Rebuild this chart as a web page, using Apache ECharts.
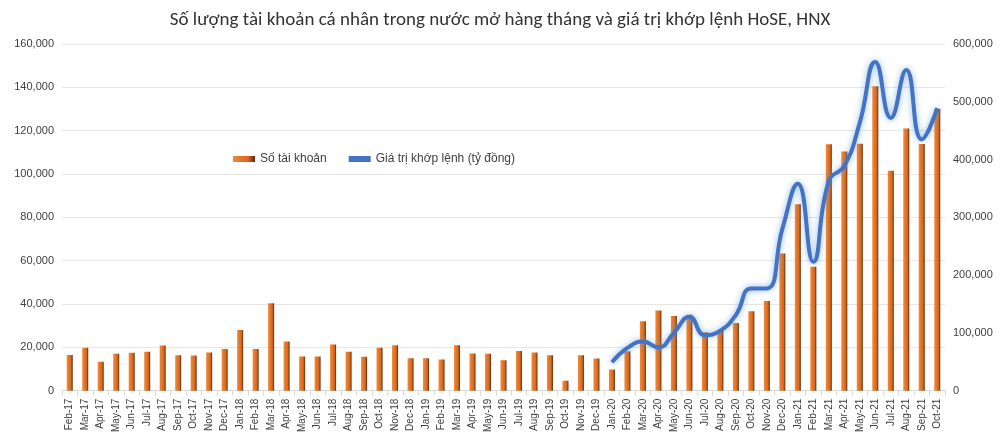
<!DOCTYPE html><html><head><meta charset="utf-8"><script src="https://cdn.jsdelivr.net/npm/echarts@6/dist/echarts.min.js"></script></head><body style="margin:0"><div id="c" style="width:1000px;height:435px"></div><script>
const categories=["Feb-17","Mar-17","Apr-17","May-17","Jun-17","Jul-17","Aug-17","Sep-17","Oct-17","Nov-17","Dec-17","Jan-18","Feb-18","Mar-18","Apr-18","May-18","Jun-18","Jul-18","Aug-18","Sep-18","Oct-18","Nov-18","Dec-18","Jan-19","Feb-19","Mar-19","Apr-19","May-19","Jun-19","Jul-19","Aug-19","Sep-19","Oct-19","Nov-19","Dec-19","Jan-20","Feb-20","Mar-20","Apr-20","May-20","Jun-20","Jul-20","Aug-20","Sep-20","Oct-20","Nov-20","Dec-20","Jan-21","Feb-21","Mar-21","Apr-21","May-21","Jun-21","Jul-21","Aug-21","Sep-21","Oct-21"];
const accounts=[16500,19800,13300,17000,17500,18000,20800,16300,16200,17600,19200,28000,19200,40300,22700,15800,15800,21300,18000,15600,19800,21000,15000,15000,14400,21000,17200,17000,14000,18300,17600,16300,4600,16300,14800,9800,18200,32000,37000,34400,35000,27000,27700,31200,36600,41400,63300,86000,57200,113700,110400,114000,140500,101500,121000,113800,130000];
const matched=[null,null,null,null,null,null,null,null,null,null,null,null,null,null,null,null,null,null,null,null,null,null,null,null,null,null,null,null,null,null,null,null,null,null,null,49000,74000,85000,75000,100000,128000,96000,104000,131000,177000,177000,280000,358000,223000,363000,389000,464000,569000,472000,555000,435000,489000];
const fmt=v=>v.toLocaleString('en-US');
const ch=echarts.init(document.getElementById('c'));
ch.setOption({
 title:{text:'Số lượng tài khoản cá nhân trong nước mở hàng tháng và giá trị khớp lệnh HoSE, HNX',left:'center',top:6,textStyle:{fontFamily:'Calibri, Carlito, "Liberation Sans", sans-serif',fontSize:19,fontWeight:'normal',color:'#333'}},
 legend:{left:228,top:148,itemGap:22,textStyle:{fontSize:12,color:'#404040'},data:[{name:'Số tài khoản',icon:'rect'},{name:'Giá trị khớp lệnh (tỷ đồng)',icon:'rect',itemStyle:{color:'#4472C4'}}],itemWidth:22,itemHeight:6},
 grid:{left:62,right:55,top:44,bottom:42},
 xAxis:{type:'category',data:categories,axisLabel:{rotate:90,interval:0,fontSize:10,color:'#404040'},axisLine:{lineStyle:{color:'#d9d9d9'}},axisTick:{show:true,alignWithLabel:false,lineStyle:{color:'#d9d9d9'}}},
 yAxis:[{type:'value',min:0,max:160000,interval:20000,axisLabel:{formatter:fmt,fontSize:11,color:'#404040'},splitLine:{lineStyle:{color:'#e6e6e6'}}},
  {type:'value',min:0,max:600000,interval:100000,axisLabel:{formatter:fmt,fontSize:11,color:'#404040'},splitLine:{show:false}}],
 series:[{name:'Số tài khoản',type:'bar',data:accounts,barWidth:6,itemStyle:{color:new echarts.graphic.LinearGradient(0,0,1,0,[{offset:0,color:'#f08a3a'},{offset:0.7,color:'#d8661c'},{offset:1,color:'#5a2a08'}])}},
  {name:'Giá trị khớp lệnh (tỷ đồng)',type:'line',yAxisIndex:1,data:matched,smooth:0.5,symbol:'none',lineStyle:{width:4,color:'#4472C4',shadowColor:'rgba(91,155,213,0.7)',shadowBlur:6},itemStyle:{color:'#4472C4'}}]
});
</script></body></html>
